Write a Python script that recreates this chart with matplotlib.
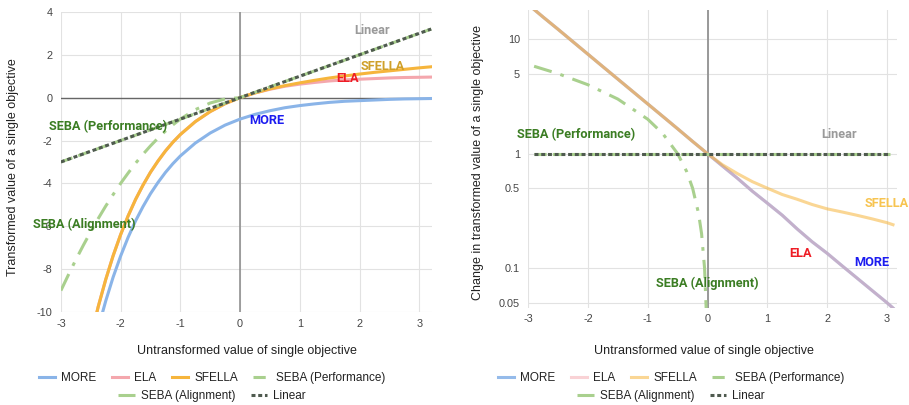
import matplotlib
matplotlib.use("Agg")
import matplotlib.pyplot as plt
from matplotlib.lines import Line2D
from matplotlib.ticker import NullLocator

# ---- left chart: transformed value ----
x_left = [-3, -2.875, -2.75, -2.625, -2.5, -2.375, -2.25, -2.125, -2, -1.875, -1.75, -1.625,
          -1.5, -1.375, -1.25, -1.125, -1, -0.75, -0.5, -0.25,
          0, 0.25, 0.5, 0.75, 1, 1.25, 1.5, 1.75, 2, 2.25, 2.5, 2.75, 3, 3.2]
more_left = [-20.1, -17.7, -15.6, -13.8, -12.2, -10.75, -9.49, -8.37, -7.39, -6.52, -5.75, -5.08,
             -4.48, -3.96, -3.49, -3.08, -2.72, -2.12, -1.65, -1.28,
             -1, -0.78, -0.61, -0.47, -0.37, -0.29, -0.22, -0.17, -0.14, -0.11, -0.08, -0.06, -0.05, -0.04]
ela_left = [-19.1, -16.7, -14.6, -12.8, -11.2, -9.75, -8.49, -7.37, -6.39, -5.52, -4.75, -4.08,
            -3.48, -2.96, -2.49, -2.08, -1.72, -1.12, -0.65, -0.28,
            0, 0.22, 0.39, 0.53, 0.63, 0.71, 0.78, 0.83, 0.86, 0.89, 0.92, 0.94, 0.95, 0.96]
sfella_left = [-19.1, -16.7, -14.6, -12.8, -11.2, -9.75, -8.49, -7.37, -6.39, -5.52, -4.75, -4.08,
               -3.48, -2.96, -2.49, -2.08, -1.72, -1.12, -0.65, -0.28,
               0, 0.22, 0.41, 0.56, 0.69, 0.81, 0.92, 1.01, 1.10, 1.18, 1.25, 1.32, 1.39, 1.44]
seba_perf_left = [-3, -2.875, -2.75, -2.625, -2.5, -2.375, -2.25, -2.125, -2, -1.875, -1.75, -1.625,
                  -1.5, -1.375, -1.25, -1.125, -1, -0.75, -0.5, -0.25,
                  0, 0.25, 0.5, 0.75, 1, 1.25, 1.5, 1.75, 2, 2.25, 2.5, 2.75, 3, 3.2]
# right of zero this series sits on the y=0 axis and is not visible in the reference
seba_align_left = [-9, -8.27, -7.56, -6.89, -6.25, -5.64, -5.06, -4.52, -4, -3.52, -3.06, -2.64,
                   -2.25, -1.89, -1.56, -1.27, -1, -0.56, -0.25, -0.06,
                   0, None, None, None, None, None, None, None, None, None, None, None, None, None]
linear_left = [-3, -2.875, -2.75, -2.625, -2.5, -2.375, -2.25, -2.125, -2, -1.875, -1.75, -1.625,
               -1.5, -1.375, -1.25, -1.125, -1, -0.75, -0.5, -0.25,
               0, 0.25, 0.5, 0.75, 1, 1.25, 1.5, 1.75, 2, 2.25, 2.5, 2.75, 3, 3.2]

# ---- right chart: change in transformed value (log scale) ----
x_right = [-3, -2.75, -2.5, -2.25, -2, -1.75, -1.5, -1.25, -1, -0.75, -0.5, -0.25,
           0, 0.25, 0.5, 0.75, 1, 1.25, 1.5, 1.75, 2, 2.25, 2.5, 2.75, 3, 3.1]
more_right = [20.1, 15.6, 12.2, 9.49, 7.39, 5.75, 4.48, 3.49, 2.72, 2.12, 1.65, 1.28,
              1, 0.78, 0.61, 0.47, 0.37, 0.29, 0.22, 0.17, 0.135, 0.105, 0.082, 0.064, 0.050, 0.045]
ela_right = [20.1, 15.6, 12.2, 9.49, 7.39, 5.75, 4.48, 3.49, 2.72, 2.12, 1.65, 1.28,
             1, 0.78, 0.61, 0.47, 0.37, 0.29, 0.22, 0.17, 0.135, 0.105, 0.082, 0.064, 0.050, 0.045]
sfella_right = [20.1, 15.6, 12.2, 9.49, 7.39, 5.75, 4.48, 3.49, 2.72, 2.12, 1.65, 1.28,
                1, 0.8, 0.67, 0.57, 0.5, 0.44, 0.4, 0.36, 0.33, 0.31, 0.29, 0.27, 0.25, 0.24]
x_seba_align_right = [-2.9, -2.5, -2, -1.5, -1, -0.75, -0.5, -0.35, -0.25, -0.15, -0.1, -0.05, -0.02]
seba_align_right = [5.8, 5, 4, 3, 2, 1.5, 1, 0.7, 0.5, 0.3, 0.2, 0.1, 0.04]
x_flat_right = [-2.9, 3.05]
seba_perf_right = [1, 1]
linear_right = [1, 1]

series_names = ["MORE", "ELA", "SFELLA", "SEBA (Performance)", "SEBA (Alignment)", "Linear"]

C_MORE = "#8ab4e8"
C_ELA = "#f4a7ad"
C_SFELLA = "#f6b53c"
C_SEBA = "#a9d08e"
C_LIN = "#4f5a4f"
GRID = "#e2e2e2"
TICK = "#444444"

plt.rcParams["font.family"] = ["Liberation Sans", "DejaVu Sans"]
plt.rcParams["axes.unicode_minus"] = False

fig = plt.figure(figsize=(9.09, 4.05), dpi=100)
axL = fig.add_axes([0.067, 0.2296, 0.408, 0.741])
axR = fig.add_axes([0.581, 0.2395, 0.406, 0.736])


def style_axes(ax):
    for s in ax.spines.values():
        s.set_visible(False)
    ax.grid(True, color=GRID, linewidth=0.8)
    ax.set_axisbelow(True)
    ax.tick_params(length=0, labelsize=7.8, labelcolor=TICK, pad=6)


lw = 2.2
dotted = (0, (1.3, 0.9))
dashdot = (0, (6, 3, 1.2, 3))

# left
style_axes(axL)
axL.axhline(0, color="#666666", linewidth=1.0, zorder=1)
axL.axvline(0, color="#888888", linewidth=1.1, zorder=1)
axL.plot(x_left, more_left, color=C_MORE, lw=lw)
axL.plot(x_left, ela_left, color=C_ELA, lw=lw)
axL.plot(x_left, sfella_left, color=C_SFELLA, lw=lw)
axL.plot(x_left, seba_perf_left, color=C_SEBA, lw=lw, linestyle=(0, (4, 2)))
axL.plot(x_left, [float("nan") if v is None else v for v in seba_align_left],
         color=C_SEBA, lw=lw, linestyle=dashdot)
axL.plot(x_left, linear_left, color=C_LIN, lw=lw, linestyle=dotted)
axL.set_xlim(-3, 3.21)
axL.set_ylim(-10, 4)
axL.set_xticks([-3, -2, -1, 0, 1, 2, 3])
axL.set_yticks([-10, -8, -6, -4, -2, 0, 2, 4])
axL.tick_params(axis="x", pad=5)

lab = dict(fontsize=9.2, fontweight="bold", ha="center", va="center", family="Roboto")
axL.text(2.21, 3.11, "Linear", color="#9a9a9a", **lab)
axL.text(2.39, 1.44, "SFELLA", color="#cfa02a", **lab)
axL.text(1.80, 0.90, "ELA", color="#ee1c25", **lab)
axL.text(0.45, -1.07, "MORE", color="#1c1cf0", **lab)
axL.text(-2.21, -1.33, "SEBA (Performance)", color="#3b7d23", **lab)
axL.text(-2.61, -5.92, "SEBA (Alignment)", color="#3b7d23", **lab)

# right
style_axes(axR)
axR.set_yscale("log")
axR.axvline(0, color="#999999", linewidth=1.4, zorder=1)
axR.plot(x_right, more_right, color=C_MORE, lw=lw, alpha=0.9)
axR.plot(x_right, ela_right, color=C_ELA, lw=lw, alpha=0.5)
axR.plot(x_right, sfella_right, color=C_SFELLA, lw=lw, alpha=0.55)
axR.plot(x_seba_align_right, seba_align_right, color=C_SEBA, lw=lw, linestyle=dashdot)
axR.plot(x_flat_right, seba_perf_right, color=C_SEBA, lw=lw, linestyle=(0, (4, 2)))
axR.plot(x_flat_right, linear_right, color=C_LIN, lw=lw, linestyle=dotted)
axR.set_xlim(-3, 3.17)
axR.set_ylim(0.045, 18)
axR.set_xticks([-3, -2, -1, 0, 1, 2, 3])
axR.set_yticks([0.05, 0.1, 0.5, 1, 5, 10])
axR.set_yticklabels(["0.05", "0.1", "0.5", "1", "5", "10"])
axR.yaxis.set_minor_locator(NullLocator())
axR.tick_params(axis="x", pad=4)

axR.text(-2.2, 1.46, "SEBA (Performance)", color="#3b7d23", **lab)
axR.text(2.2, 1.46, "Linear", color="#9a9a9a", **lab)
axR.text(3.0, 0.367, "SFELLA", color="#f7c451", **lab)
axR.text(1.56, 0.135, "ELA", color="#ee1c25", **lab)
axR.text(2.74, 0.112, "MORE", color="#1c1cf0", **lab)
axR.text(0.0, 0.0736, "SEBA (Alignment)", color="#3b7d23", **lab)

# axis titles
fig.text(0.014, 0.588, "Transformed value of a single objective", rotation=90,
         ha="center", va="center", fontsize=9, color="#222222")
fig.text(478 / 909, 0.60, "Change in transformed value of a single objective", rotation=90,
         ha="center", va="center", fontsize=9, color="#222222")
fig.text(247 / 909, 1 - 351 / 405, "Untransformed value of single objective",
         ha="center", va="center", fontsize=9, color="#222222")
fig.text(704 / 909, 1 - 351 / 405, "Untransformed value of single objective",
         ha="center", va="center", fontsize=9, color="#222222")


# legends
def handles(alphas):
    styles = [
        dict(color=C_MORE, linestyle="-"),
        dict(color=C_ELA, linestyle="-"),
        dict(color=C_SFELLA, linestyle="-"),
        dict(color=C_SEBA, linestyle=(0, (4, 2))),
        dict(color=C_SEBA, linestyle=dashdot),
        dict(color=C_LIN, linestyle=dotted),
    ]
    return [Line2D([], [], lw=lw, alpha=a, **st) for st, a in zip(styles, alphas)]


leg_kw = dict(frameon=False, fontsize=8.5, handlelength=1.4, handletextpad=0.5,
              columnspacing=1.3, borderpad=0, labelcolor="#222222")
for cx, alphas in [(212, [1] * 6), (671, [0.9, 0.5, 0.55, 1, 1, 1])]:
    h = handles(alphas)
    fig.legend(h[:4], series_names[:4], loc="center", ncol=4,
               bbox_to_anchor=(cx / 909, 1 - 378 / 405), **leg_kw)
    fig.legend(h[4:], series_names[4:], loc="center", ncol=2,
               bbox_to_anchor=(cx / 909, 1 - 396 / 405), **leg_kw)

fig.savefig("out.png", dpi=100)
